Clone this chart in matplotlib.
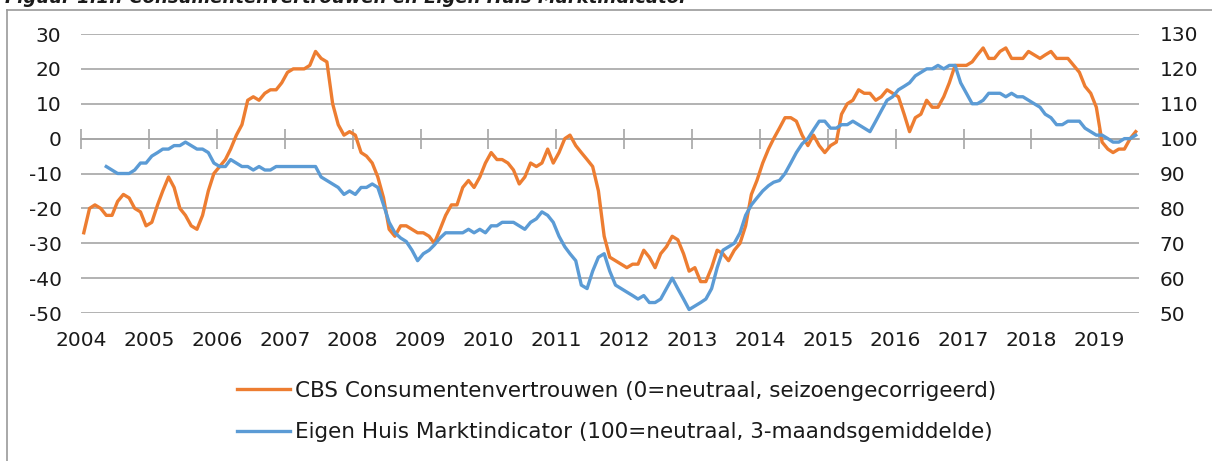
import numpy as np
import pandas as pd
import matplotlib
matplotlib.use("Agg")
import matplotlib.pyplot as plt
from matplotlib.lines import Line2D

plt.rcParams["axes.unicode_minus"] = False

# CBS consumentenvertrouwen, maandcijfers jan 2004 - jul 2019
cbs = [
    -27, -20, -19, -20, -22, -22, -18, -16, -17, -20, -21, -25,   # 2004
    -24, -19, -15, -11, -14, -20, -22, -25, -26, -22, -15, -10,   # 2005
    -8, -6, -3, 1, 4, 11, 12, 11, 13, 14, 14, 16,                 # 2006
    19, 20, 20, 20, 21, 25, 23, 22, 10, 4, 1, 2,                  # 2007
    1, -4, -5, -7, -11, -17, -26, -28, -25, -25, -26, -27,        # 2008
    -27, -28, -30, -26, -22, -19, -19, -14, -12, -14, -11, -7,    # 2009
    -4, -6, -6, -7, -9, -13, -11, -7, -8, -7, -3, -7,             # 2010
    -4, 0, 1, -2, -4, -6, -8, -15, -28, -34, -35, -36,            # 2011
    -37, -36, -36, -32, -34, -37, -33, -31, -28, -29, -33, -38,   # 2012
    -37, -41, -41, -37, -32, -33, -35, -32, -30, -25, -16, -12,   # 2013
    -7, -3, 0, 3, 6, 6, 5, 1, -2, 1, -2, -4,                      # 2014
    -2, -1, 7, 10, 11, 14, 13, 13, 11, 12, 14, 13,                # 2015
    12, 7, 2, 6, 7, 11, 9, 9, 12, 16, 21, 21,                     # 2016
    21, 22, 24, 26, 23, 23, 25, 26, 23, 23, 23, 25,               # 2017
    24, 23, 24, 25, 23, 23, 23, 21, 19, 15, 13, 9,                # 2018
    -1, -3, -4, -3, -3, 0, 2,                                     # 2019
]

# Eigen Huis Marktindicator, mei 2004 - jul 2019
ehm = [
    92, 91, 90, 90, 90, 91, 93, 93,                               # 2004 (vanaf mei)
    95, 96, 97, 97, 98, 98, 99, 98, 97, 97, 96, 93,               # 2005
    92, 92, 94, 93, 92, 92, 91, 92, 91, 91, 92, 92,               # 2006
    92, 92, 92, 92, 92, 92, 89, 88, 87, 86, 84, 85,               # 2007
    84, 86, 86, 87, 86, 81, 76, 73, 71.5, 70.5, 68, 65,           # 2008
    67, 68, 69.5, 71.5, 73, 73, 73, 73, 74, 73, 74, 73,           # 2009
    75, 75, 76, 76, 76, 75, 74, 76, 77, 79, 78, 76,               # 2010
    72, 69, 67, 65, 58, 57, 62, 66, 67, 62, 58, 57,               # 2011
    56, 55, 54, 55, 53, 53, 54, 57, 60, 57, 54, 51,               # 2012
    52, 53, 54, 57, 63, 68, 69, 70, 73, 78, 81, 83,               # 2013
    85, 86.5, 87.5, 88, 90, 93, 96, 98.5, 100, 102.5, 105, 105,   # 2014
    103, 103, 104, 104, 105, 104, 103, 102, 105, 108, 111, 112,   # 2015
    114, 115, 116, 118, 119, 120, 120, 121, 120, 121, 121, 116,   # 2016
    113, 110, 110, 111, 113, 113, 113, 112, 113, 112, 112, 111,   # 2017
    110, 109, 107, 106, 104, 104, 105, 105, 105, 103, 102, 101,   # 2018
    101, 100, 99, 99, 100, 100, 101,                              # 2019
]

years = list(range(2004, 2020))
label_cbs = "CBS Consumentenvertrouwen (0=neutraal, seizoengecorrigeerd)"
label_ehm = "Eigen Huis Marktindicator (100=neutraal, 3-maandsgemiddelde)"
title = "Figuur 1.1.: Consumentenvertrouwen en Eigen Huis Marktindicator"

orange = "#ED7D31"
blue = "#5B9BD5"
grid = "#a6a6a6"
txt = "#1a1a1a"

# mid-month dates
dates_cbs = pd.date_range("2004-01-01", periods=len(cbs), freq="MS") + pd.Timedelta(days=15)
dates_ehm = pd.date_range("2004-05-01", periods=len(ehm), freq="MS") + pd.Timedelta(days=15)
year_ticks = pd.to_datetime([f"{y}-01-01" for y in years])

fig = plt.figure(figsize=(12.12, 4.61), dpi=100)
ax = fig.add_axes([81 / 1212, 1 - 313 / 461, (1138.7 - 81) / 1212, 279 / 461])
ax2 = ax.twinx()

ax.plot(dates_cbs, cbs, color=orange, lw=2.4, label=label_cbs, solid_joinstyle="round")
ax2.plot(dates_ehm, ehm, color=blue, lw=2.4, label=label_ehm, solid_joinstyle="round")

ax.set_xlim(pd.Timestamp("2004-01-01"), pd.Timestamp("2019-08-01"))
ax.set_ylim(-50, 30)
ax2.set_ylim(50, 130)
ax.set_yticks(range(-50, 31, 10))
ax2.set_yticks(range(50, 131, 10))
ax.set_xticks(year_ticks)
ax.set_xticklabels([str(y) for y in years])

ax.grid(axis="y", color=grid, lw=1.2)
ax.set_axisbelow(True)
for a in (ax, ax2):
    for s in a.spines.values():
        s.set_visible(False)

ax.tick_params(axis="x", length=0, pad=13, labelsize=14.5, labelcolor=txt)
ax.tick_params(axis="y", length=0, pad=14, labelsize=14.5, labelcolor=txt)
ax2.tick_params(axis="y", length=0, pad=15, labelsize=14.5, labelcolor=txt)

# horizontal axis line through 0 with tick marks crossing it
zero_pos = (0 - (-50)) / 80
sec = ax.secondary_xaxis(zero_pos)
sec.set_xticks(year_ticks)
sec.tick_params(direction="inout", length=14, width=1.2, color=grid, labeltop=False, labelbottom=False)
for s in sec.spines.values():
    s.set_color(grid)
    s.set_linewidth(1.2)

h1, l1 = ax.get_legend_handles_labels()
h2, l2 = ax2.get_legend_handles_labels()
fig.legend(h1 + h2, l1 + l2, loc="center left", bbox_to_anchor=(237 / 1212, 1 - 411.5 / 461),
           frameon=False, fontsize=15.5, handlelength=2.45, handletextpad=0.25,
           labelspacing=1.0, borderpad=0, borderaxespad=0, labelcolor=txt)

# title partly cut off at the top, and the chart border
fig.text(5 / 1212, 1 - 3 / 461, title, fontsize=13, fontweight="bold", style="italic",
         va="baseline", ha="left", color=txt)
fig.add_artist(Line2D([7 / 1212, 1], [1 - 10 / 461, 1 - 10 / 461], transform=fig.transFigure,
                      color="#9a9a9a", lw=1.2))
fig.add_artist(Line2D([7 / 1212, 7 / 1212], [0, 1 - 10 / 461], transform=fig.transFigure,
                      color="#9a9a9a", lw=1.2))

fig.savefig("out.png", dpi=100)
